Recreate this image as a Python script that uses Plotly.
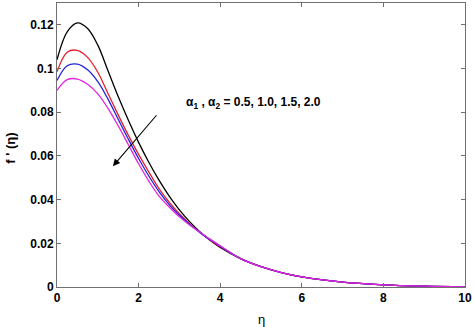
import plotly.graph_objects as go

eta = [0, 0.25, 0.5, 0.75, 1.0, 1.25, 1.5, 1.75, 2.0, 2.25, 2.5, 2.75, 3.0,
       3.25, 3.5, 3.75, 4.0, 4.5, 5.0, 5.5, 6.0, 7.0, 8.0, 9.0, 10.0]

tail = [0.0130, 0.0093, 0.0066, 0.0046, 0.0022, 0.0010, 0.0004, 0.0001]

f_black = [0.1040, 0.1168, 0.1209, 0.1183, 0.1107, 0.0990, 0.0872, 0.0763, 0.0662,
           0.0571, 0.0489, 0.0416, 0.0353, 0.0299, 0.0253, 0.0214, 0.0181] + tail
f_red = [0.0985, 0.1075, 0.1083, 0.1051, 0.0983, 0.0886, 0.0788, 0.0694, 0.0607,
         0.0527, 0.0450, 0.0388, 0.0335, 0.0290, 0.0251, 0.0216, 0.0184] + tail
f_blue = [0.0945, 0.1013, 0.1020, 0.0994, 0.0940, 0.0860, 0.0768, 0.0676, 0.0588,
          0.0508, 0.0437, 0.0377, 0.0328, 0.0287, 0.0250, 0.0216, 0.0186] + tail
f_mag = [0.0900, 0.0949, 0.0952, 0.0928, 0.0884, 0.0818, 0.0738, 0.0651, 0.0564,
         0.0485, 0.0416, 0.0366, 0.0321, 0.0284, 0.0251, 0.0219, 0.0189] + tail

series = [("0.5", f_black, "#000000"), ("1.0", f_red, "#e6202a"),
          ("1.5", f_blue, "#2424dc"), ("2.0", f_mag, "#e024e0")]

x_ticks = [0, 2, 4, 6, 8, 10]
y_ticks = [0, 0.02, 0.04, 0.06, 0.08, 0.1, 0.12]

label_text = "α<sub>1</sub> , α<sub>2</sub> = 0.5, 1.0, 1.5, 2.0"
label_pos = (3.12, 0.084)
arrow_head = (1.37, 0.0553)
arrow_tail = (2.47, 0.0793)

fig = go.Figure()
for name, ys, col in series:
    fig.add_trace(go.Scatter(x=eta, y=ys, mode="lines", name=name,
                             line=dict(color=col, width=1.3, shape="spline", smoothing=1.0),
                             showlegend=False))

axis_common = dict(showline=True, linecolor="#707070", linewidth=1, mirror="allticks",
                   ticks="inside", ticklen=4, tickcolor="#707070", showgrid=False,
                   zeroline=False,
                   tickfont=dict(family="Liberation Sans, Arial", size=12, color="black",
                                 weight="bold"))

fig.update_xaxes(range=[0, 10], tickvals=x_ticks, **axis_common)
fig.update_yaxes(range=[0, 0.13], tickvals=y_ticks, **axis_common)

fig.add_annotation(x=label_pos[0], y=label_pos[1], xref="x", yref="y", text=label_text,
                   showarrow=False, xanchor="left", yanchor="middle",
                   font=dict(family="Liberation Sans, Arial", size=12, color="black",
                             weight="bold"))
fig.add_annotation(x=arrow_head[0], y=arrow_head[1], ax=arrow_tail[0], ay=arrow_tail[1],
                   xref="x", yref="y", axref="x", ayref="y", text="", showarrow=True,
                   arrowhead=2, arrowsize=1.3, arrowwidth=1.1, arrowcolor="black")

fig.add_annotation(x=0.5, y=-0.115, xref="paper", yref="paper", text="η",
                   showarrow=False, xanchor="center", yanchor="middle",
                   font=dict(family="Liberation Sans, Arial", size=13, color="black"))
fig.add_annotation(x=-0.113, y=0.49, xref="paper", yref="paper", text="f ' (η)",
                   showarrow=False, textangle=-90, xanchor="center", yanchor="middle",
                   font=dict(family="Liberation Sans, Arial", size=13, color="black",
                             weight="bold"))

fig.update_layout(width=474, height=327, margin=dict(l=57, r=7, t=2, b=40),
                  paper_bgcolor="white", plot_bgcolor="white")

fig.write_html("out.html")
